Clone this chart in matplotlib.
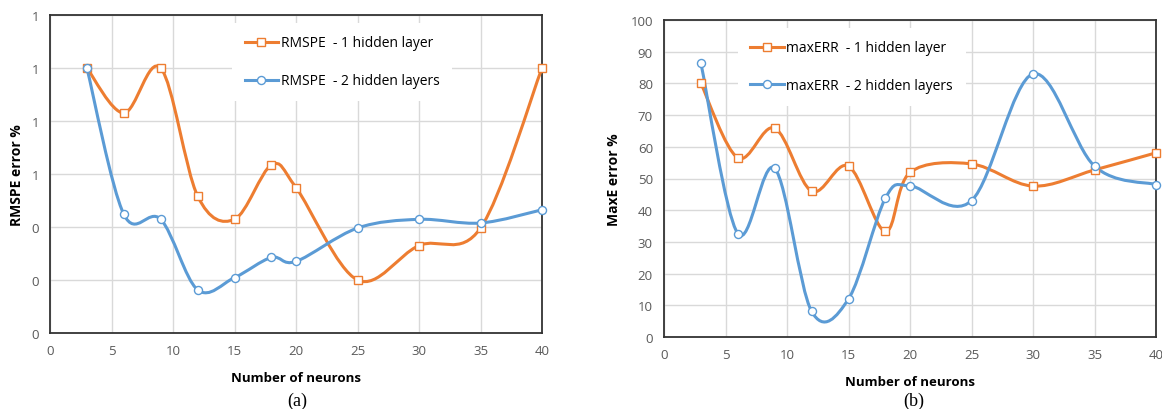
import math

import matplotlib
matplotlib.use('Agg')
import matplotlib.pyplot as plt
from matplotlib.path import Path
from matplotlib.patches import PathPatch
from matplotlib.lines import Line2D
from matplotlib.ticker import FuncFormatter, MultipleLocator

plt.rcParams['font.family'] = ['Open Sans', 'DejaVu Sans']

neurons = [3, 6, 9, 12, 15, 18, 20, 25, 30, 35, 40]

rmspe_1 = [1.0, 0.83, 1.0, 0.517, 0.429, 0.634, 0.549, 0.2, 0.33, 0.396, 1.0]
rmspe_2 = [1.0, 0.448, 0.429, 0.163, 0.209, 0.285, 0.27, 0.396, 0.429, 0.415, 0.465]

maxerr_1 = [80.0, 56.5, 65.9, 46.0, 53.9, 33.3, 51.9, 54.6, 47.6, 52.7, 58.1]
maxerr_2 = [86.4, 32.6, 53.2, 8.1, 12.0, 43.8, 47.7, 43.0, 83.0, 53.9, 48.1]

labels_a = ['RMSPE  - 1 hidden layer', 'RMSPE  - 2 hidden layers']
labels_b = ['maxERR  - 1 hidden layer', 'maxERR  - 2 hidden layers']

ORANGE = '#ED7D31'
BLUE = '#5B9BD5'
TICKC = '#595959'
W, H = 1162, 410


# excel style smoothed line, cubic bezier through the points
def smooth_path(xs, ys):
    n = len(xs)
    verts = [(xs[0], ys[0])]
    codes = [Path.MOVETO]
    for i in range(n - 1):
        x0, y0 = xs[max(i - 1, 0)], ys[max(i - 1, 0)]
        x1, y1 = xs[i], ys[i]
        x2, y2 = xs[i + 1], ys[i + 1]
        x3, y3 = xs[min(i + 2, n - 1)], ys[min(i + 2, n - 1)]
        c1 = (x1 + (x2 - x0) / 6.0, y1 + (y2 - y0) / 6.0)
        c2 = (x2 - (x3 - x1) / 6.0, y2 - (y3 - y1) / 6.0)
        verts += [c1, c2, (x2, y2)]
        codes += [Path.CURVE4] * 3
    return Path(verts, codes)


def draw_series(ax, xs, ys, color, marker):
    ax.add_patch(PathPatch(smooth_path(xs, ys), fill=False, edgecolor=color,
                           lw=2.2, capstyle='round', joinstyle='round', zorder=3))
    ax.plot(xs, ys, linestyle='none', marker=marker, ms=5.8, mfc='white',
            mec=color, mew=1.0, zorder=4, clip_on=False)


def style_axes(ax, ylabel, pad):
    ax.set_xlim(0, 40)
    ax.xaxis.set_major_locator(MultipleLocator(5))
    ax.grid(True, color='#D9D9D9', lw=1.0)
    ax.set_axisbelow(True)
    for s in ax.spines.values():
        s.set_color('#333333')
        s.set_linewidth(1.3)
    ax.tick_params(length=0, labelsize=9.5, labelcolor=TICKC, pad=8)
    ax.set_xlabel('Number of neurons', fontsize=9.5, fontweight='bold', labelpad=10)
    ax.set_ylabel(ylabel, fontsize=10, fontweight='bold', labelpad=pad)


def add_legend(ax, labels, x0):
    handles = [
        Line2D([], [], color=ORANGE, lw=2.2, marker='s', ms=5.8, mfc='white', mec=ORANGE),
        Line2D([], [], color=BLUE, lw=2.2, marker='o', ms=5.8, mfc='white', mec=BLUE),
    ]
    leg = ax.legend(handles, labels, loc='upper left', bbox_to_anchor=(x0, 0.975),
                    frameon=True, fancybox=False, edgecolor='none', framealpha=1,
                    fontsize=10, handlelength=2.4, handletextpad=0.2,
                    labelspacing=1.65, borderpad=0.9, borderaxespad=0)
    leg.get_frame().set_linewidth(0)


fig = plt.figure(figsize=(W / 100, H / 100), dpi=100)

ax1 = fig.add_axes([50 / W, (H - 334) / H, 492 / W, 318 / H])
draw_series(ax1, neurons, rmspe_1, ORANGE, 's')
draw_series(ax1, neurons, rmspe_2, BLUE, 'o')
ax1.set_ylim(0, 1.2)
ax1.yaxis.set_major_locator(MultipleLocator(0.2))
ax1.yaxis.set_major_formatter(FuncFormatter(lambda v, p: '%d' % math.floor(v + 0.5)))
style_axes(ax1, 'RMSPE error %', 5)
add_legend(ax1, labels_a, 0.37)

ax2 = fig.add_axes([664 / W, (H - 338) / H, 492 / W, 317 / H])
draw_series(ax2, neurons, maxerr_1, ORANGE, 's')
draw_series(ax2, neurons, maxerr_2, BLUE, 'o')
ax2.set_ylim(0, 100)
ax2.yaxis.set_major_locator(MultipleLocator(10))
style_axes(ax2, 'MaxE error %', 7)
add_legend(ax2, labels_b, 0.15)

fig.text(297 / W, 1 - 401 / H, '(a)', ha='center', va='center',
         family='Liberation Serif', fontsize=13)
fig.text(914 / W, 1 - 401 / H, '(b)', ha='center', va='center',
         family='Liberation Serif', fontsize=13)

fig.savefig('out.png', dpi=100)
